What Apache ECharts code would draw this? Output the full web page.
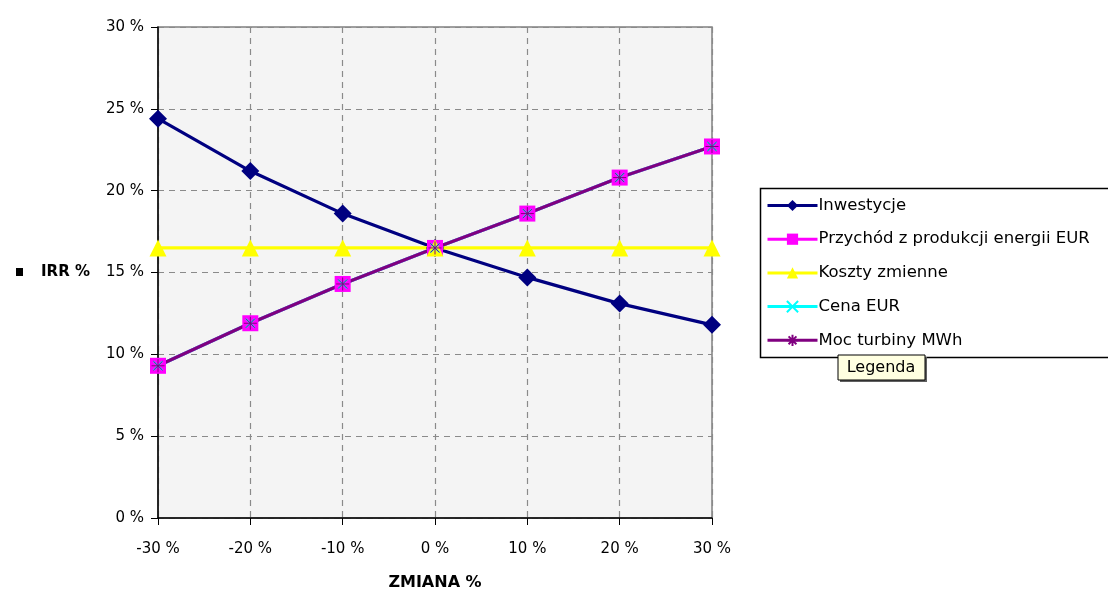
<!DOCTYPE html>
<html>
<head>
<meta charset="utf-8">
<script src="https://cdn.jsdelivr.net/npm/echarts@6/dist/echarts.min.js"></script>
<style>
html,body{margin:0;padding:0;background:#fff;}
#c{width:1108px;height:593px;}
</style>
</head>
<body>
<div id="c"></div>
<script>
var categories = ['-30 %','-20 %','-10 %','0 %','10 %','20 %','30 %'];
var seriesNames = ['Inwestycje','Przychód z produkcji energii EUR','Koszty zmienne','Cena EUR','Moc turbiny MWh'];
var inwestycje = [24.4, 21.2, 18.6, 16.5, 14.7, 13.1, 11.8];
var przychod  = [9.3, 11.9, 14.3, 16.5, 18.6, 20.8, 22.7];
var koszty    = [16.5, 16.5, 16.5, 16.5, 16.5, 16.5, 16.5];
var cena      = [9.3, 11.9, 14.3, 16.5, 18.6, 20.8, 22.7];
var moc       = [9.3, 11.9, 14.3, 16.5, 18.6, 20.8, 22.7];
var yTicks = [0,5,10,15,20,25,30];

var FONT = 'DejaVu Sans';
var chart = echarts.init(document.getElementById('c'), null, {renderer:'canvas'});
var asterisk = 'path://M0,5L10,5M5,0L5,10M1.5,1.5L8.5,8.5M8.5,1.5L1.5,8.5';
var xmark = 'path://M0,0L10,10M10,0L0,10';

function mk(name, data, color, symbol, size, extra){
  var s = {
    name: name, type: 'line', data: data,
    symbol: symbol, symbolSize: size, showSymbol: true,
    lineStyle: {color: color, width: 3.2},
    itemStyle: {color: color},
    animation: false, z: 2
  };
  if (extra) Object.assign(s, extra);
  return s;
}

chart.setOption({
  backgroundColor: '#fff',
  animation: false,
  grid: {left:158, right:396, top:27, bottom:75, show:true, backgroundColor:'#f4f4f4', borderColor:'#808080', borderWidth:1.5},
  xAxis: {
    type:'category', data: categories, boundaryGap:false,
    axisLine:{show:true, lineStyle:{color:'#000', width:1.5}},
    axisTick:{show:true, alignWithLabel:true, length:7, lineStyle:{color:'#000'}},
    axisLabel:{color:'#000', fontFamily:FONT, fontSize:15, margin:24},
    splitLine:{show:true, lineStyle:{color:'#8a8a8a', type:[6,5], width:1.2}}
  },
  yAxis: {
    type:'value', min:0, max:30, interval:5,
    axisLine:{show:true, lineStyle:{color:'#000', width:1.5}},
    axisTick:{show:true, length:7, lineStyle:{color:'#000'}},
    axisLabel:{color:'#000', fontFamily:FONT, fontSize:15, margin:14, formatter: function(v){ return v + ' %'; }},
    splitLine:{show:true, lineStyle:{color:'#8a8a8a', type:[6,5], width:1.2}}
  },
  legend: {
    orient:'vertical', left:761, top:192, itemGap:16.7, itemWidth:50, itemHeight:14,
    data: seriesNames,
    lineStyle:{width:3},
    textStyle:{fontFamily:FONT, fontSize:16.5, color:'#000', padding:[0,0,0,-4]},
    selectedMode:false
  },
  series: [
    mk(seriesNames[0], inwestycje, '#000080', 'diamond', 18),
    mk(seriesNames[1], przychod, '#ff00ff', 'rect', 16),
    mk(seriesNames[2], koszty, '#ffff00', 'triangle', 17),
    mk(seriesNames[3], cena, '#00ffff', xmark, 9, {itemStyle:{color:'#00ffff', borderColor:'#00ffff', borderWidth:1.5}}),
    mk(seriesNames[4], moc, '#800080', asterisk, 13, {itemStyle:{color:'#800080', borderColor:'#800080', borderWidth:1}})
  ],
  graphic: [
    {type:'rect', left:758, top:186, shape:{width:349, height:169}, style:{fill:'none', stroke:'#000', lineWidth:1.5}, z:-1},
    {type:'rect', shape:{x:16, y:268, width:7, height:8}, style:{fill:'#000'}},
    {type:'text', x:41, y:272, style:{text:'IRR %', fontFamily:FONT, fontSize:15, fontWeight:'bold', fill:'#000', verticalAlign:'middle'}},
    {type:'text', x:435, y:583, style:{text:'ZMIANA %', fontFamily:FONT, fontSize:16, fontWeight:'bold', fill:'#000', align:'center', verticalAlign:'middle'}},
    {type:'rect', shape:{x:840, y:357, width:87, height:25}, style:{fill:'#606060'}, z:10},
    {type:'rect', shape:{x:838, y:355, width:87, height:25}, style:{fill:'#ffffe1', stroke:'#000', lineWidth:1}, z:11},
    {type:'text', x:881, y:368, style:{text:'Legenda', fontFamily:FONT, fontSize:16, fill:'#000', align:'center', verticalAlign:'middle'}, z:12}
  ]
});
</script>
</body>
</html>
